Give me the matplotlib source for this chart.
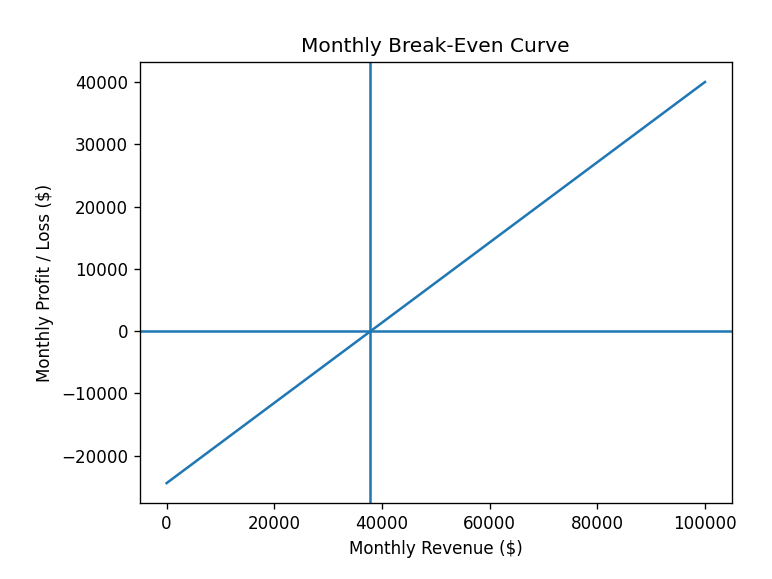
import matplotlib
matplotlib.use("Agg")
import matplotlib.pyplot as plt

# values
revenue = [0, 100000]
profit = [-24400, 40000]
break_even_revenue = 37850

fig, ax = plt.subplots(figsize=(6.4, 4.8), dpi=772 / 6.4)
fig.subplots_adjust(left=0.181, right=0.948, top=0.893, bottom=0.131)
ax.plot(revenue, profit)
ax.axhline(0)
ax.axvline(break_even_revenue)
ax.set_title("Monthly Break-Even Curve")
ax.set_xlabel("Monthly Revenue ($)")
ax.set_ylabel("Monthly Profit / Loss ($)")

fig.savefig("out.png", dpi=772 / 6.4)
